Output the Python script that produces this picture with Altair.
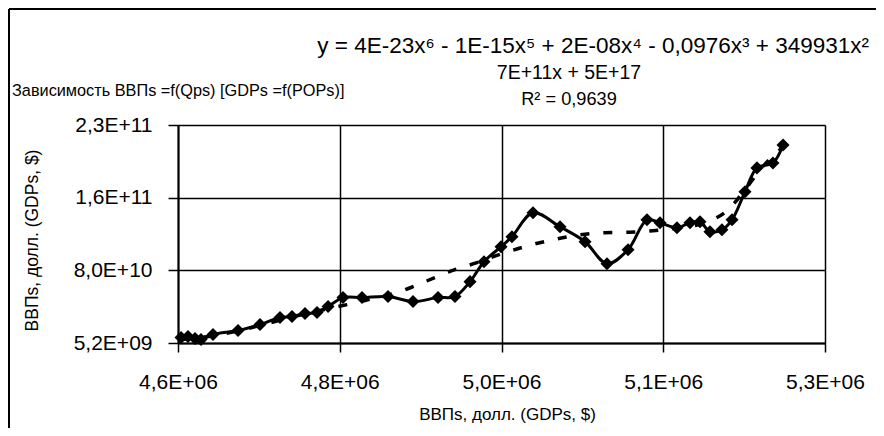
import altair as alt
import pandas as pd

# --- data ---
gdp_x = [4633200, 4640500, 4647900, 4654200, 4666800, 4693100, 4716200, 4737200,
         4749800, 4763500, 4776100, 4787700, 4803400, 4823400, 4850700, 4877000,
         4903300, 4921100, 4936900, 4951600, 4969500, 4981000, 5003100, 5031500,
         5057800, 5080900, 5103000, 5122900, 5136600, 5154400, 5168100, 5178600,
         5189100, 5201700, 5212300, 5225900, 5238500, 5255300, 5265900]
gdp_y = [1.087e10, 1.189e10, 9.83e9, 8.80e9, 1.395e10, 1.807e10, 2.425e10, 3.146e10,
         3.249e10, 3.558e10, 3.661e10, 4.279e10, 5.206e10, 5.206e10, 5.309e10, 4.794e10,
         5.206e10, 5.309e10, 6.853e10, 8.913e10, 1.0458e11, 1.1487e11, 1.3959e11, 1.2517e11,
         1.0972e11, 8.707e10, 1.0149e11, 1.3238e11, 1.2929e11, 1.2414e11, 1.2929e11, 1.3032e11,
         1.2002e11, 1.2208e11, 1.3238e11, 1.6121e11, 1.8593e11, 1.9108e11, 2.0962e11]

trend_x = [4633200, 4653100, 4684700, 4716200, 4747700, 4779200, 4807600, 4834900,
           4863300, 4889600, 4918000, 4944200, 4970500, 4997900, 5024100, 5052500,
           5076700, 5104000, 5129200, 5157600, 5187000, 5208100, 5225900, 5241700, 5265900]
trend_y = [8.80e9, 1.087e10, 1.601e10, 2.322e10, 3.146e10, 3.867e10, 4.485e10, 5.103e10,
           5.823e10, 6.853e10, 7.986e10, 8.810e10, 9.737e10, 1.0561e11, 1.1178e11, 1.1693e11,
           1.1899e11, 1.1951e11, 1.2105e11, 1.2414e11, 1.3032e11, 1.4268e11, 1.6327e11, 1.8387e11, 2.0756e11]

x_ticks = [4630000, 4800000, 4970000, 5140000, 5310000]
x_tick_labels = ["4,6E+06", "4,8E+06", "5,0E+06", "5,1E+06", "5,3E+06"]
y_ticks = [5200000000, 80200000000, 155200000000, 230200000000]
y_tick_labels = ["5,2E+09", "8,0E+10", "1,6E+11", "2,3E+11"]

title_text = ["Зависимость ВВПs =f(Qps) [GDPs =f(POPs)]"]
eq_line1 = ["y = 4E-23x⁶ - 1E-15x⁵ + 2E-08x⁴ - 0,0976x³ + 349931x²"]
eq_line2 = ["7E+11x + 5E+17"]
eq_line3 = ["R² = 0,9639"]
x_title = "ВВПs, долл. (GDPs, $)"
y_title = "ВВПs, долл. (GDPs, $)"

FONT = "Liberation Sans"

main_df = pd.DataFrame({"x": gdp_x, "y": gdp_y})
trend_df = pd.DataFrame({"x": trend_x, "y": trend_y})


def label_expr(vals, labels):
    v = ",".join(str(int(a)) for a in vals)
    l = ",".join("'" + s + "'" for s in labels)
    return f"[{l}][indexof([{v}], datum.value)]"


xs = alt.Scale(domain=[x_ticks[0], x_ticks[-1]], nice=False, zero=False)
ys = alt.Scale(domain=[y_ticks[0], y_ticks[-1]], nice=False, zero=False)

x_axis = alt.Axis(values=x_ticks, labelExpr=label_expr(x_ticks, x_tick_labels),
                  title=x_title, grid=True, gridColor="black", gridWidth=1.5,
                  domainColor="black", domainWidth=2, tickColor="black", tickWidth=1.5,
                  tickSize=9, labelPadding=19, labelFontSize=21, labelFont=FONT,
                  labelFlush=False, labelOverlap=False,
                  labelColor="black", titleFont=FONT, titleFontSize=17,
                  titleFontWeight="normal", titleColor="black", titlePadding=14,
                  titleX=329)
y_axis = alt.Axis(values=y_ticks, labelExpr=label_expr(y_ticks, y_tick_labels),
                  title=y_title, grid=True, gridColor="black", gridWidth=1.5,
                  domainColor="black", domainWidth=2, tickColor="black", tickWidth=1.5,
                  tickSize=10, labelPadding=16, labelFontSize=21, labelFont=FONT,
                  labelFlush=False, labelOverlap=False,
                  labelColor="black", titleFont=FONT, titleFontSize=17.5,
                  titleFontWeight="normal", titleColor="black",
                  titleX=-146, titleY=115, titleBaseline="middle")

trend = alt.Chart(trend_df).mark_line(
    color="black", strokeWidth=3.5, strokeDash=[9, 14], interpolate="monotone"
).encode(x=alt.X("x:Q", scale=xs, axis=x_axis), y=alt.Y("y:Q", scale=ys, axis=y_axis))

line = alt.Chart(main_df).mark_line(
    color="black", strokeWidth=3, interpolate="catmull-rom"
).encode(x=alt.X("x:Q", scale=xs), y=alt.Y("y:Q", scale=ys))

pts = alt.Chart(main_df).mark_point(
    shape="diamond", filled=True, color="black", size=170, opacity=1
).encode(x=alt.X("x:Q", scale=xs), y=alt.Y("y:Q", scale=ys))


def text_layer(lst, x, y, align, size):
    return alt.Chart(pd.DataFrame({"t": lst})).mark_text(
        align=align, baseline="middle", font=FONT, fontSize=size, color="black"
    ).encode(text="t:N", x=alt.value(x), y=alt.value(y))


t_title = text_layer(title_text, -166, -34, "left", 16.3)
t_eq1 = text_layer(eq_line1, 691, -79, "right", 22.5)
t_eq2 = text_layer(eq_line2, 391, -52, "center", 19.5)
t_eq3 = text_layer(eq_line3, 391, -25, "center", 18.2)

frame_left = alt.Chart(pd.DataFrame({"a": [0]})).mark_rule(color="black", strokeWidth=2).encode(
    x=alt.value(-169), y=alt.value(-116), y2=alt.value(310))
frame_top = alt.Chart(pd.DataFrame({"a": [0]})).mark_rule(color="black", strokeWidth=2).encode(
    x=alt.value(-169), x2=alt.value(700), y=alt.value(-116))

chart = alt.layer(trend, line, pts, t_title, t_eq1, t_eq2, t_eq3, frame_left, frame_top).properties(
    width=647, height=218,
    padding={"left": 170, "top": 117, "right": 51, "bottom": 85},
    autosize="none", background="white"
).configure_view(stroke=None)

chart.save("out.html", embed_options={"renderer": "svg", "actions": False})
